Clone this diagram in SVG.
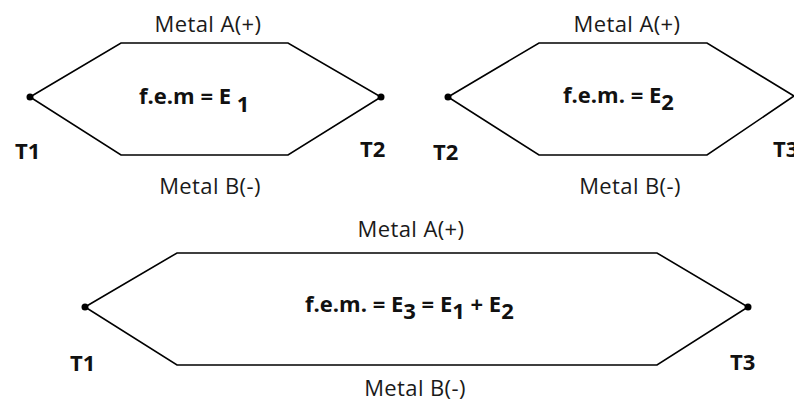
<svg xmlns="http://www.w3.org/2000/svg" width="794" height="405" viewBox="0 0 794 405">
<style>
.wire{fill:none;stroke:#000;stroke-width:1.6;stroke-linejoin:miter}
.dot{fill:#000}
.lbl{font-family:"Open Sans","Liberation Sans",sans-serif;font-size:22px;letter-spacing:0.4px;fill:#1a1a1a;text-anchor:middle}
.emf{font-family:"Open Sans","Liberation Sans",sans-serif;font-size:22px;font-weight:bold;fill:#111}
.t{font-family:"Open Sans","Liberation Sans",sans-serif;font-size:22px;font-weight:bold;fill:#111}
</style>
<rect width="794" height="405" fill="#fff"/>
<g id="thermocouple1">
<polygon class="wire" points="30,97 121,43 288,43 381,97 288,155 121,155"/>
<circle class="dot" cx="30" cy="97" r="3.5"/>
<circle class="dot" cx="381" cy="97" r="3.5"/>
<text class="lbl" x="208" y="32">Metal A(+)</text>
<text class="lbl" x="210" y="194">Metal B(-)</text>
<text class="emf" x="139" y="104">f.e.m = E <tspan dy="8">1</tspan></text>
<text class="t" x="15" y="159">T1</text>
<text class="t" x="360" y="157">T2</text>
</g>
<g id="thermocouple2">
<polygon class="wire" points="448,97 539,43 707,43 794,96 707,155 539,155"/>
<circle class="dot" cx="448" cy="97" r="3.5"/>
<text class="lbl" x="627" y="32">Metal A(+)</text>
<text class="lbl" x="630" y="194">Metal B(-)</text>
<text class="emf" x="563" y="103">f.e.m. = E<tspan dy="7">2</tspan></text>
<text class="t" x="433" y="160">T2</text>
<text class="t" x="773" y="157">T3</text>
</g>
<g id="thermocouple3">
<polygon class="wire" points="85,307 177,253 657,253 748,307 657,365 177,365"/>
<circle class="dot" cx="85" cy="307" r="3.5"/>
<circle class="dot" cx="748" cy="307" r="3.5"/>
<text class="lbl" x="411" y="237">Metal A(+)</text>
<text class="lbl" x="415" y="396">Metal B(-)</text>
<text class="emf" x="305" y="312">f.e.m. = E<tspan dy="7">3</tspan><tspan dy="-7"> = E</tspan><tspan dy="7">1</tspan><tspan dy="-7"> + E</tspan><tspan dy="7">2</tspan></text>
<text class="t" x="70" y="371">T1</text>
<text class="t" x="730" y="370">T3</text>
</g>
</svg>
